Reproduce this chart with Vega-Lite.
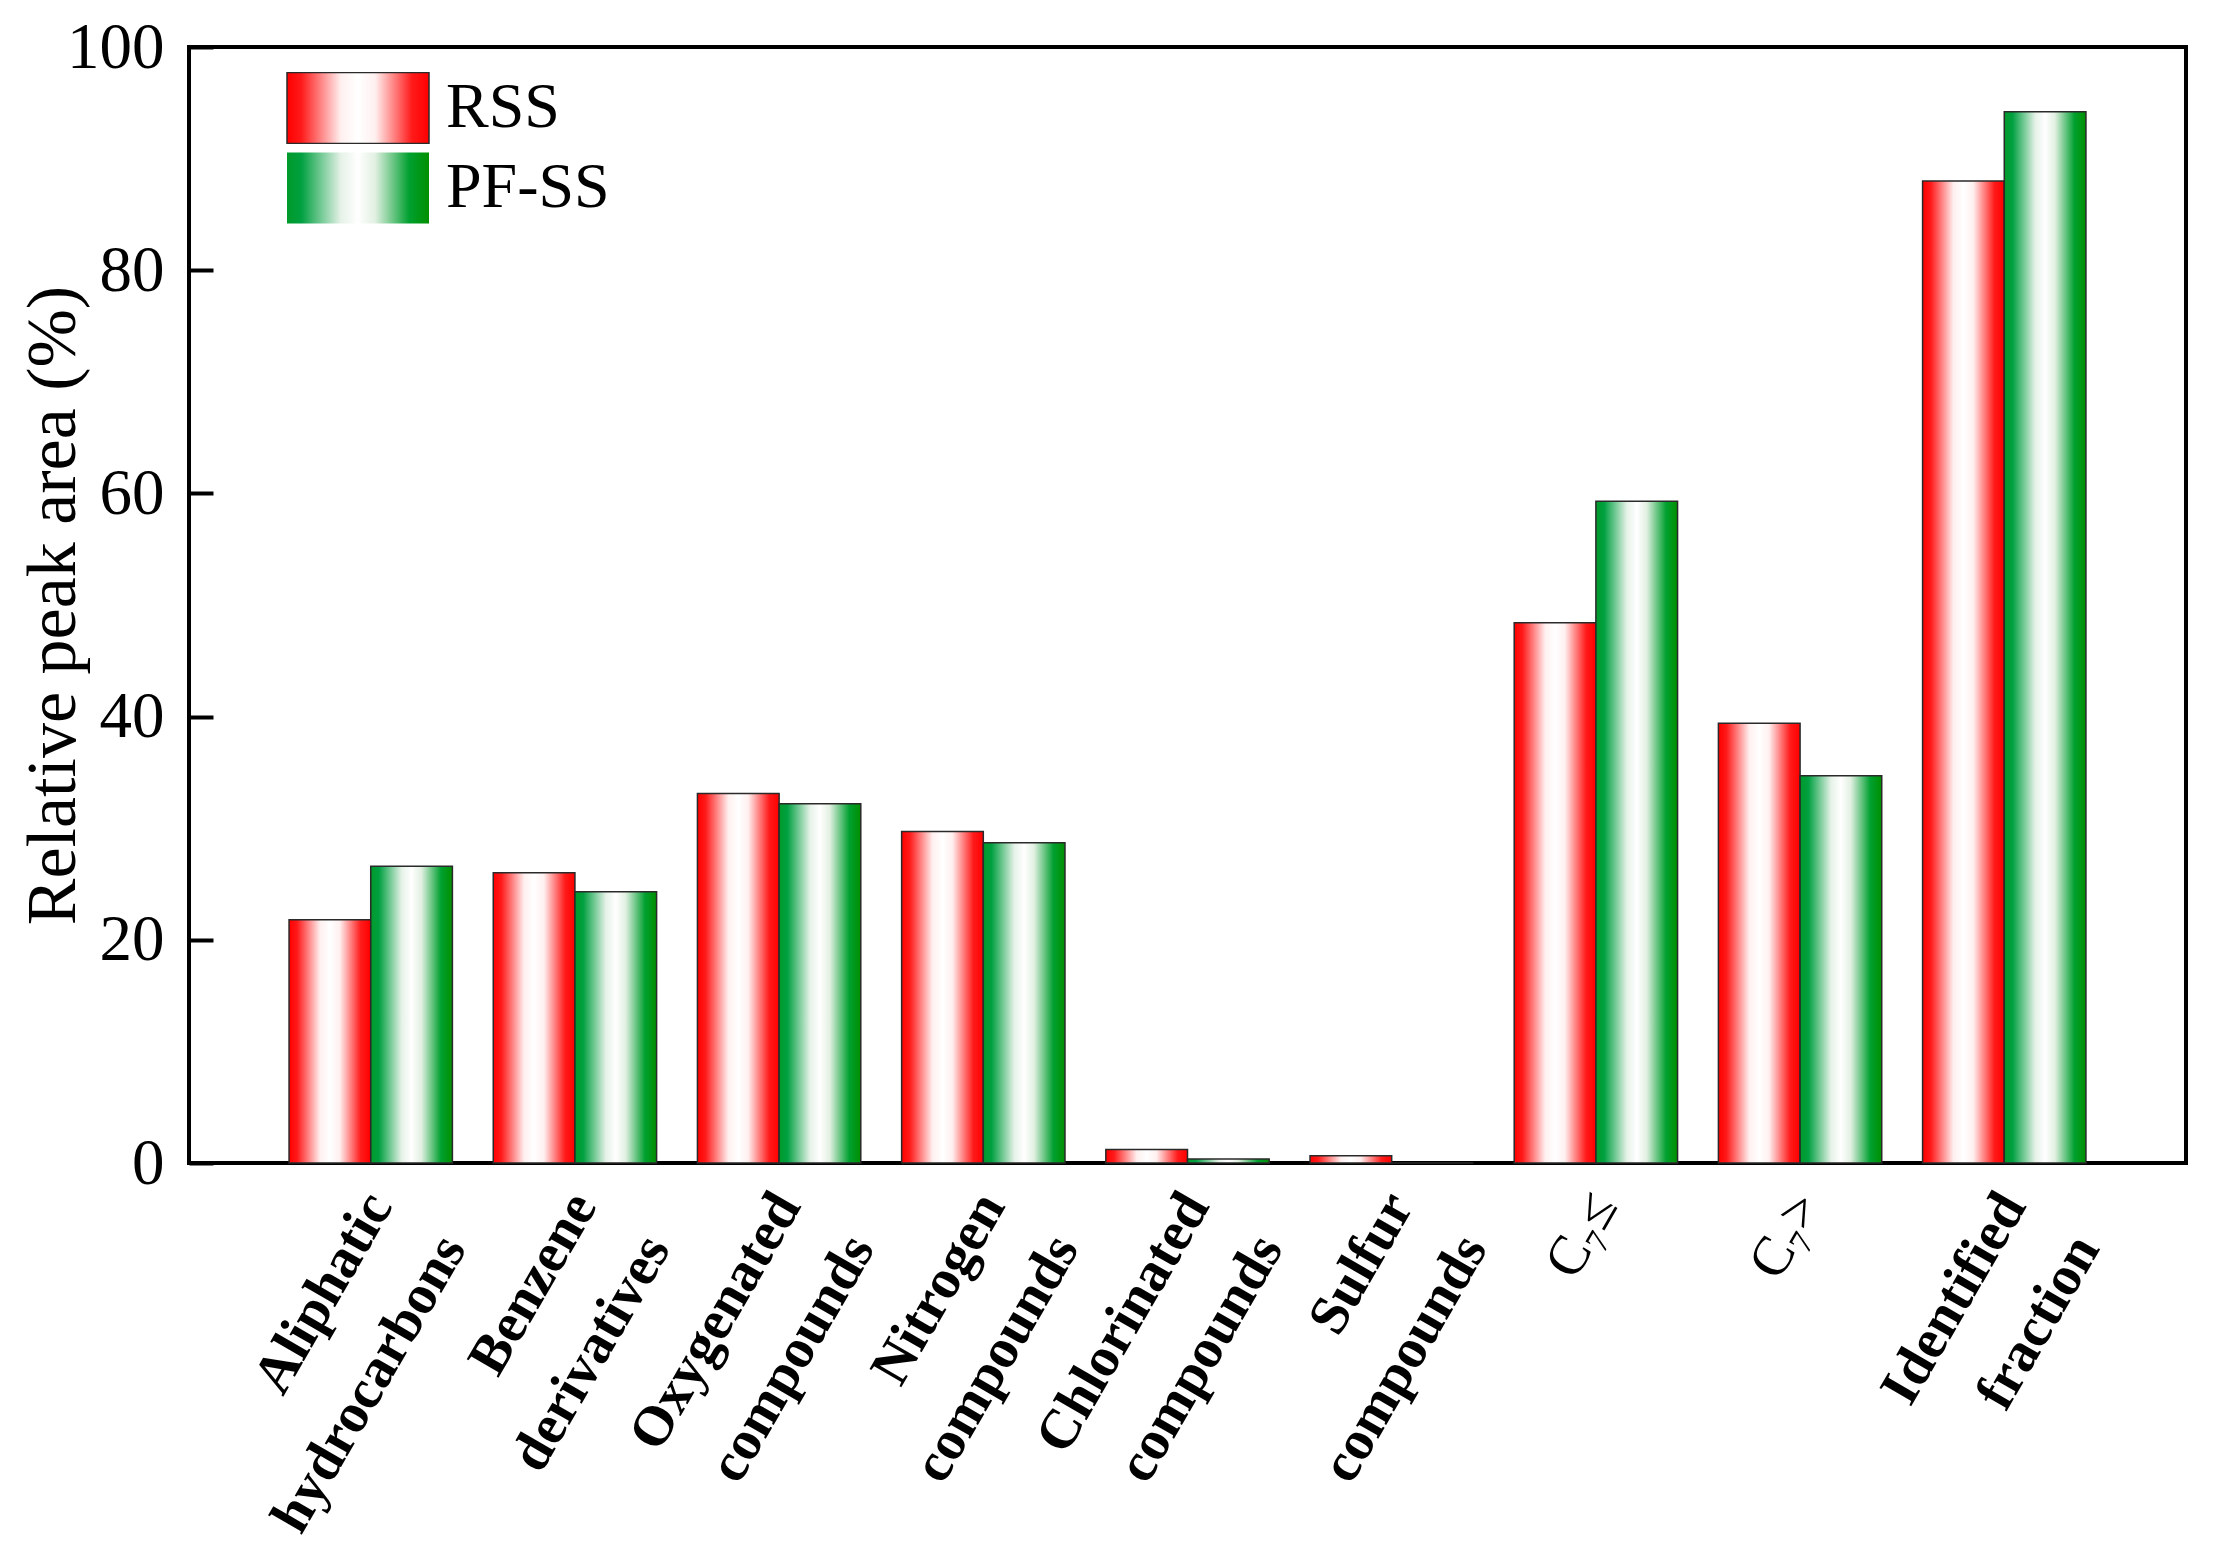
{
  "$schema": "https://vega.github.io/schema/vega-lite/v6.json",
  "width": 1997,
  "height": 1116,
  "autosize": {"type": "none"},
  "padding": {"left": 189, "top": 47, "right": 42, "bottom": 379},
  "background": "white",
  "config": {
    "view": {"stroke": "black", "strokeWidth": 4},
    "font": "Liberation Serif"
  },
  "data": {
    "values": [
      {"category": "Aliphatic hydrocarbons", "sample": "RSS", "value": 21.8},
      {"category": "Aliphatic hydrocarbons", "sample": "PF-SS", "value": 26.6},
      {"category": "Benzene derivatives", "sample": "RSS", "value": 26.0},
      {"category": "Benzene derivatives", "sample": "PF-SS", "value": 24.3},
      {"category": "Oxygenated compounds", "sample": "RSS", "value": 33.1},
      {"category": "Oxygenated compounds", "sample": "PF-SS", "value": 32.2},
      {"category": "Nitrogen compounds", "sample": "RSS", "value": 29.7},
      {"category": "Nitrogen compounds", "sample": "PF-SS", "value": 28.7},
      {"category": "Chlorinated compounds", "sample": "RSS", "value": 1.2},
      {"category": "Chlorinated compounds", "sample": "PF-SS", "value": 0.35},
      {"category": "Sulfur compounds", "sample": "RSS", "value": 0.65},
      {"category": "Sulfur compounds", "sample": "PF-SS", "value": 0},
      {"category": "C₇≤", "sample": "RSS", "value": 48.4},
      {"category": "C₇≤", "sample": "PF-SS", "value": 59.3},
      {"category": "C₇>", "sample": "RSS", "value": 39.4},
      {"category": "C₇>", "sample": "PF-SS", "value": 34.7},
      {"category": "Identified fraction", "sample": "RSS", "value": 88.0},
      {"category": "Identified fraction", "sample": "PF-SS", "value": 94.2}
    ]
  },
  "encoding": {
    "x": {
      "field": "category",
      "type": "nominal",
      "sort": null,
      "title": null,
      "scale": {"paddingInner": 0.2, "paddingOuter": 0.49},
      "axis": {
        "domain": false,
        "ticks": false,
        "labelAngle": -60,
        "labelAlign": "right",
        "labelBaseline": "middle",
        "labelFont": "Liberation Serif",
        "labelFontSize": 56,
        "labelFontWeight": {"condition": {"test": "indexof(datum.value, '₇') >= 0", "value": "normal"}, "value": "bold"},
        "labelColor": "black",
        "labelLineHeight": 85,
        "labelPadding": 34,
        "labelOffset": 8,
        "labelLimit": 0,
        "labelOverlap": false,
        "labelExpr": "split(datum.label, ' ')"
      }
    },
    "xOffset": {"field": "sample", "type": "nominal", "scale": {"domain": ["RSS", "PF-SS"], "paddingInner": 0}},
    "y": {
      "field": "value",
      "type": "quantitative",
      "title": "Relative peak area (%)",
      "scale": {"domain": [0, 100], "nice": false},
      "axis": {
        "values": [0, 20, 40, 60, 80, 100],
        "grid": false,
        "domain": false,
        "ticks": true,
        "tickSize": -24,
        "tickWidth": 4,
        "tickColor": "black",
        "labelFont": "Liberation Serif",
        "labelFontSize": 65,
        "labelColor": "black",
        "labelPadding": 49,
        "titleFont": "Liberation Serif",
        "titleFontSize": 70,
        "titleFontWeight": "normal",
        "titleColor": "black",
        "titleX": -136,
        "titleY": 558,
        "titleAlign": "center",
        "titleBaseline": "middle",
        "titleAngle": -90
      }
    }
  },
  "layer": [
    {
      "transform": [{"filter": "datum.sample === 'RSS'"}],
      "mark": {"type": "bar", "strokeWidth": 1.5, "fill": {"gradient": "linear", "x1": 0, "y1": 0, "x2": 1, "y2": 0, "stops": [
        {"offset": 0, "color": "#ff0000"},
        {"offset": 0.1, "color": "#ff1a1a"},
        {"offset": 0.38, "color": "#fff0f0"},
        {"offset": 0.5, "color": "#ffffff"},
        {"offset": 0.62, "color": "#fff0f0"},
        {"offset": 0.88, "color": "#ff1a1a"},
        {"offset": 1, "color": "#ff0000"}
      ]}},
      "encoding": {
        "stroke": {
          "field": "sample",
          "type": "nominal",
          "scale": {"domain": ["RSS"], "range": ["#2a2a2a"]},
          "legend": {
            "title": null,
            "orient": "none",
            "legendX": 97,
            "legendY": 25,
            "symbolType": "M-1,-0.5H1V0.5H-1Z",
            "symbolSize": 20164,
            "symbolStrokeWidth": 1.5,
            "symbolOpacity": 1,
            "clipHeight": 72,
            "labelFont": "Liberation Serif",
            "labelFontSize": 64,
            "labelColor": "black",
            "labelOffset": 16,
            "labelLimit": 0,
            "encode": {
              "symbols": {
                "update": {
                  "fill": {"value": {"gradient": "linear", "x1": 0, "y1": 0, "x2": 1, "y2": 0, "stops": [
                    {"offset": 0, "color": "#ff0000"},
                    {"offset": 0.1, "color": "#ff1a1a"},
                    {"offset": 0.38, "color": "#fff0f0"},
                    {"offset": 0.5, "color": "#ffffff"},
                    {"offset": 0.62, "color": "#fff0f0"},
                    {"offset": 0.88, "color": "#ff1a1a"},
                    {"offset": 1, "color": "#ff0000"}
                  ]}},
                  "fillOpacity": {"value": 1}
                }
              }
            }
          }
        }
      }
    },
    {
      "transform": [{"filter": "datum.sample === 'PF-SS'"}],
      "mark": {"type": "bar", "strokeWidth": 1.5, "stroke": "#2a2a2a", "fill": {"gradient": "linear", "x1": 0, "y1": 0, "x2": 1, "y2": 0, "stops": [
        {"offset": 0, "color": "#009a2a"},
        {"offset": 0.1, "color": "#00a040"},
        {"offset": 0.38, "color": "#e6f2e8"},
        {"offset": 0.5, "color": "#ffffff"},
        {"offset": 0.62, "color": "#e2f0e2"},
        {"offset": 0.86, "color": "#00a030"},
        {"offset": 1, "color": "#008f00"}
      ]}},
      "encoding": {
        "opacity": {
          "field": "sample",
          "type": "nominal",
          "scale": {"domain": ["PF-SS"], "range": [1]},
          "legend": {
            "title": null,
            "orient": "none",
            "legendX": 97,
            "legendY": 105,
            "symbolType": "M-1,-0.5H1V0.5H-1Z",
            "symbolSize": 20164,
            "symbolStrokeWidth": 1.5,
            "symbolStrokeColor": "#2a2a2a",
            "clipHeight": 72,
            "labelFont": "Liberation Serif",
            "labelFontSize": 64,
            "labelColor": "black",
            "labelOffset": 16,
            "labelLimit": 0,
            "encode": {
              "symbols": {
                "update": {
                  "fill": {"value": {"gradient": "linear", "x1": 0, "y1": 0, "x2": 1, "y2": 0, "stops": [
                    {"offset": 0, "color": "#009a2a"},
                    {"offset": 0.1, "color": "#00a040"},
                    {"offset": 0.38, "color": "#e6f2e8"},
                    {"offset": 0.5, "color": "#ffffff"},
                    {"offset": 0.62, "color": "#e2f0e2"},
                    {"offset": 0.86, "color": "#00a030"},
                    {"offset": 1, "color": "#008f00"}
                  ]}},
                  "fillOpacity": {"value": 1},
                  "opacity": {"value": 1}
                }
              }
            }
          }
        }
      }
    }
  ]
}
